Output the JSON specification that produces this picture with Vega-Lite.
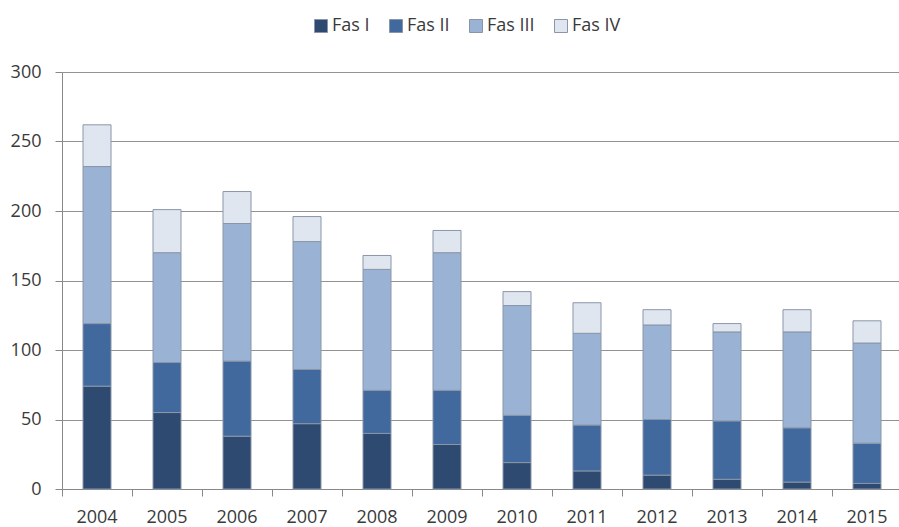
{
  "$schema": "https://vega.github.io/schema/vega-lite/v6.json",
  "width": 840,
  "height": 417,
  "autosize": "none",
  "padding": {"left": 62, "top": 72, "right": 0, "bottom": 38},
  "background": "white",
  "config": {
    "view": {"stroke": null},
    "font": "Open Sans"
  },
  "data": {
    "values": [
      {"year": "2004", "fas": "Fas I", "value": 74},
      {"year": "2004", "fas": "Fas II", "value": 45},
      {"year": "2004", "fas": "Fas III", "value": 113},
      {"year": "2004", "fas": "Fas IV", "value": 30},
      {"year": "2005", "fas": "Fas I", "value": 55},
      {"year": "2005", "fas": "Fas II", "value": 36},
      {"year": "2005", "fas": "Fas III", "value": 79},
      {"year": "2005", "fas": "Fas IV", "value": 31},
      {"year": "2006", "fas": "Fas I", "value": 38},
      {"year": "2006", "fas": "Fas II", "value": 54},
      {"year": "2006", "fas": "Fas III", "value": 99},
      {"year": "2006", "fas": "Fas IV", "value": 23},
      {"year": "2007", "fas": "Fas I", "value": 47},
      {"year": "2007", "fas": "Fas II", "value": 39},
      {"year": "2007", "fas": "Fas III", "value": 92},
      {"year": "2007", "fas": "Fas IV", "value": 18},
      {"year": "2008", "fas": "Fas I", "value": 40},
      {"year": "2008", "fas": "Fas II", "value": 31},
      {"year": "2008", "fas": "Fas III", "value": 87},
      {"year": "2008", "fas": "Fas IV", "value": 10},
      {"year": "2009", "fas": "Fas I", "value": 32},
      {"year": "2009", "fas": "Fas II", "value": 39},
      {"year": "2009", "fas": "Fas III", "value": 99},
      {"year": "2009", "fas": "Fas IV", "value": 16},
      {"year": "2010", "fas": "Fas I", "value": 19},
      {"year": "2010", "fas": "Fas II", "value": 34},
      {"year": "2010", "fas": "Fas III", "value": 79},
      {"year": "2010", "fas": "Fas IV", "value": 10},
      {"year": "2011", "fas": "Fas I", "value": 13},
      {"year": "2011", "fas": "Fas II", "value": 33},
      {"year": "2011", "fas": "Fas III", "value": 66},
      {"year": "2011", "fas": "Fas IV", "value": 22},
      {"year": "2012", "fas": "Fas I", "value": 10},
      {"year": "2012", "fas": "Fas II", "value": 40},
      {"year": "2012", "fas": "Fas III", "value": 68},
      {"year": "2012", "fas": "Fas IV", "value": 11},
      {"year": "2013", "fas": "Fas I", "value": 7},
      {"year": "2013", "fas": "Fas II", "value": 42},
      {"year": "2013", "fas": "Fas III", "value": 64},
      {"year": "2013", "fas": "Fas IV", "value": 6},
      {"year": "2014", "fas": "Fas I", "value": 5},
      {"year": "2014", "fas": "Fas II", "value": 39},
      {"year": "2014", "fas": "Fas III", "value": 69},
      {"year": "2014", "fas": "Fas IV", "value": 16},
      {"year": "2015", "fas": "Fas I", "value": 4},
      {"year": "2015", "fas": "Fas II", "value": 29},
      {"year": "2015", "fas": "Fas III", "value": 72},
      {"year": "2015", "fas": "Fas IV", "value": 16}
    ]
  },
  "mark": {"type": "bar", "stroke": "#8a96a8", "strokeWidth": 1, "width": {"band": 0.4}},
  "encoding": {
    "x": {
      "field": "year",
      "type": "nominal",
      "title": null,
      "scale": {"paddingInner": 0, "paddingOuter": 0},
      "axis": {
        "labelAngle": 0,
        "labelFontSize": 18,
        "labelColor": "#3a3a3a",
        "labelPadding": 12,
        "domainColor": "#888888",
        "tickColor": "#888888",
        "tickSize": 7,
        "bandPosition": 0
      }
    },
    "y": {
      "field": "value",
      "type": "quantitative",
      "aggregate": "sum",
      "stack": "zero",
      "title": null,
      "scale": {"domain": [0, 300]},
      "axis": {
        "values": [0, 50, 100, 150, 200, 250, 300],
        "labelFontSize": 18,
        "labelColor": "#3a3a3a",
        "labelPadding": 14,
        "domain": true,
        "domainColor": "#888888",
        "tickColor": "#888888",
        "tickSize": 7,
        "gridColor": "#929292",
        "gridWidth": 1
      }
    },
    "color": {
      "field": "fas",
      "type": "nominal",
      "title": null,
      "scale": {
        "domain": ["Fas I", "Fas II", "Fas III", "Fas IV"],
        "range": ["#2e4a70", "#41699e", "#9ab3d5", "#e0e6ef"]
      },
      "legend": {
        "orient": "none",
        "legendX": 250,
        "legendY": -55,
        "direction": "horizontal",
        "symbolType": "square",
        "symbolSize": 169,
        "symbolStrokeColor": "#8a96a8",
        "symbolStrokeWidth": 1,
        "labelFontSize": 18,
        "labelColor": "#3a3a3a",
        "labelOffset": 2,
        "columnPadding": 17
      }
    },
    "order": {"field": "fas", "sort": "ascending"}
  }
}
